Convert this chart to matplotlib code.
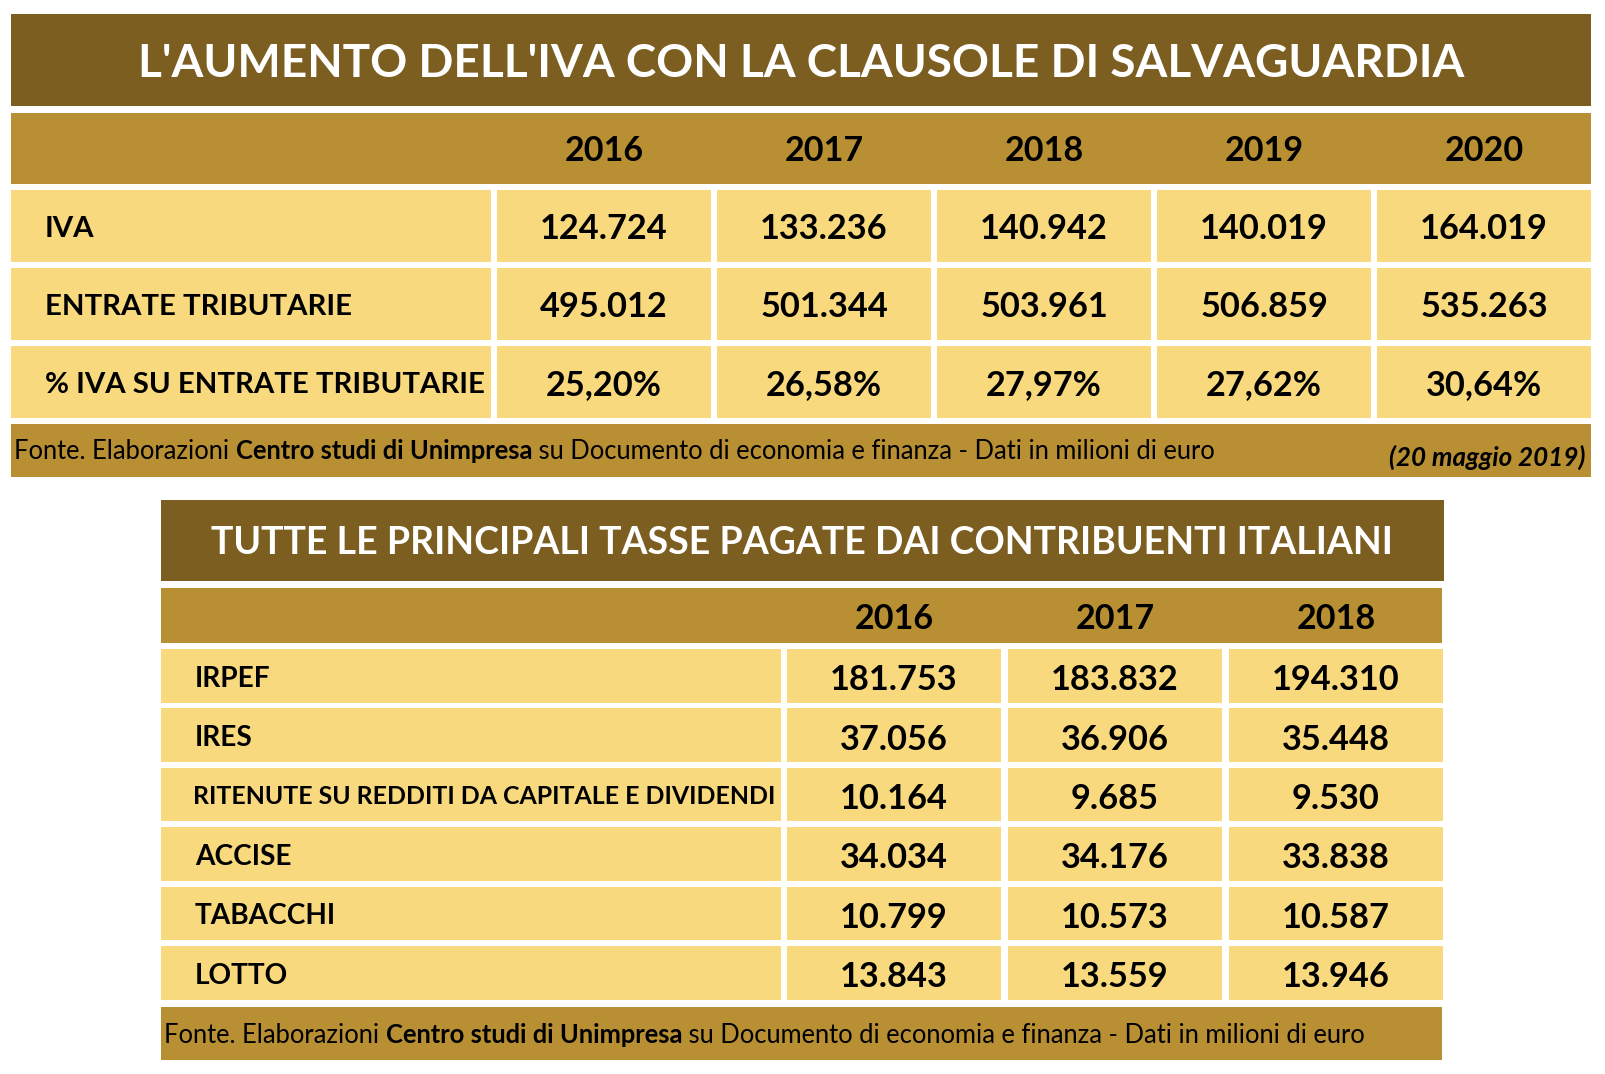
import matplotlib
matplotlib.use('Agg')
import matplotlib.pyplot as plt
from matplotlib.patches import Rectangle

plt.rcParams['font.family'] = ['Lato', 'DejaVu Sans']

# top table
title1 = "L'AUMENTO DELL'IVA CON LA CLAUSOLE DI SALVAGUARDIA"
years1 = ['2016', '2017', '2018', '2019', '2020']
rows1 = ['IVA', 'ENTRATE TRIBUTARIE', '% IVA SU ENTRATE TRIBUTARIE']
iva = [124724, 133236, 140942, 140019, 164019]
entrate = [495012, 501344, 503961, 506859, 535263]
quota_iva = [25.20, 26.58, 27.97, 27.62, 30.64]
date1 = '(20 maggio 2019)'

# bottom table
title2 = 'TUTTE LE PRINCIPALI TASSE PAGATE DAI CONTRIBUENTI ITALIANI'
years2 = ['2016', '2017', '2018']
taxes = ['IRPEF', 'IRES', 'RITENUTE SU REDDITI DA CAPITALE E DIVIDENDI',
         'ACCISE', 'TABACCHI', 'LOTTO']
irpef = [181753, 183832, 194310]
ires = [37056, 36906, 35448]
ritenute = [10164, 9685, 9530]
accise = [34034, 34176, 33838]
tabacchi = [10799, 10573, 10587]
lotto = [13843, 13559, 13946]

source = [('Fonte. Elaborazioni ', 'normal'),
          ('Centro studi di Unimpresa', 'bold'),
          (' su Documento di economia e finanza - Dati in milioni di euro', 'normal')]

DARK = '#7b5e20'
MID = '#b88f32'
LIGHT = '#f8d97e'


def num(v):
    return '{:,}'.format(v).replace(',', '.')


def pct(v):
    return '{:.2f}%'.format(v).replace('.', ',')


fig = plt.figure(figsize=(16.05, 10.74), dpi=100)
ax = fig.add_axes([0, 0, 1, 1])
ax.set_xlim(0, 1605)
ax.set_ylim(1074, 0)
ax.axis('off')
r = fig.canvas.get_renderer()


def width_of(s, size, weight='bold', style='normal'):
    t = ax.text(0, 0, s, fontsize=size, fontweight=weight, fontstyle=style)
    w = t.get_window_extent(renderer=r).width
    t.remove()
    return w


def fit(s, target, weight='bold', style='normal'):
    return 20 * target / width_of(s, 20, weight, style)


def put(x, yc, s, size, ha='center', color='black', weight='bold', style='normal'):
    # yc is the visual middle of the capitals
    ax.text(x, yc + 0.36 * size * 100 / 72, s, fontsize=size, ha=ha, va='baseline',
            color=color, fontweight=weight, fontstyle=style)


def box(x0, x1, y0, y1, color):
    ax.add_patch(Rectangle((x0, y0), x1 - x0, y1 - y0, facecolor=color, edgecolor='none'))


def footer(x, yc, size):
    for s, w in source:
        t = ax.text(x, yc + 0.36 * size * 100 / 72, s, fontsize=size, fontweight=w,
                    va='baseline', ha='left', color='black')
        x += t.get_window_extent(renderer=r).width


def footer_size(target):
    tot = sum(width_of(s, 20, w) for s, w in source)
    return 20 * target / tot


val_size = fit('124.724', 128)
year_size = fit('2016', 79)
gap = 6
col_w = 214

# ---- top table ----
L, R = 11, 1591
box(L, R, 14, 106, DARK)
put((L + R) / 2, 60, title1, fit(title1, 1325), color='white')
box(L, R, 113, 184, MID)
lab_r = 491
cols1 = [lab_r + gap + i * (col_w + gap) for i in range(len(years1))]
for x, y in zip(cols1, years1):
    put(x + col_w / 2, 149, y, year_size)

lab_size1 = fit(rows1[2], 439)
vals1 = [[num(v) for v in iva], [num(v) for v in entrate], [pct(v) for v in quota_iva]]
for i, (lab, vals) in enumerate(zip(rows1, vals1)):
    y0 = 190 + i * 78
    y1 = y0 + 72
    box(L, lab_r, y0, y1, LIGHT)
    put(45, (y0 + y1) / 2, lab, lab_size1, ha='left')
    for x, v in zip(cols1, vals):
        box(x, min(x + col_w, R), y0, y1, LIGHT)
        put(x + col_w / 2, (y0 + y1) / 2 + 1, v, val_size)

box(L, R, 424, 477, MID)
footer(14, 450, footer_size(1205))
put(1585, 456, date1, fit(date1, 196, 'bold', 'italic'), ha='right', style='italic')

# ---- bottom table ----
L2, R2 = 161, 1442
box(L2, R2 + 2, 500, 581, DARK)
put((L2 + R2) / 2, 540, title2, fit(title2, 1184), color='white')
box(L2, R2, 588, 643, MID)
lab_r2 = 781
cols2 = [lab_r2 + gap + i * (col_w + 1 + gap) for i in range(len(years2))]
for x, y in zip(cols2, years2):
    put(x + col_w / 2, 617, y, year_size)

lab_size2 = fit('TABACCHI', 141)
rit_size = fit(taxes[2], 581)
vals2 = [irpef, ires, ritenute, accise, tabacchi, lotto]
for i, (lab, vals) in enumerate(zip(taxes, vals2)):
    y0 = 649 + i * 59.4
    y1 = y0 + 53.5
    box(L2, lab_r2, y0, y1, LIGHT)
    size = rit_size if i == 2 else lab_size2
    put(195 if i != 2 else 193, (y0 + y1) / 2 + 1, lab, size, ha='left')
    for x, v in zip(cols2, vals):
        box(x, x + col_w, y0, y1, LIGHT)
        put(x + col_w / 2, (y0 + y1) / 2 + 2, num(v), val_size)

box(L2, R2, 1007, 1060, MID)
footer(164, 1034, footer_size(1205))

fig.savefig('out.png', dpi=100, facecolor='white')
